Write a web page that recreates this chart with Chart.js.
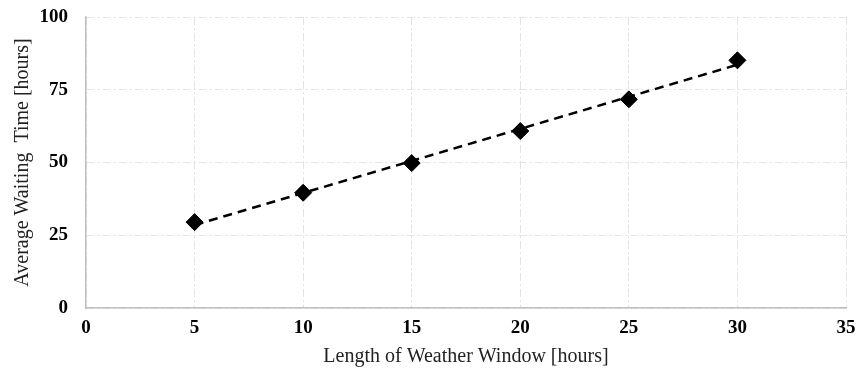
<!DOCTYPE html>
<html>
<head>
<meta charset="utf-8">
<script src="https://cdn.jsdelivr.net/npm/chart.js@4"></script>
<style>
  html, body { margin: 0; padding: 0; background: #fff; }
  #wrap { width: 858px; height: 373px; }
</style>
</head>
<body>
<div id="wrap"><canvas id="waitChart"></canvas></div>
<script>
// window length [hours] vs average waiting time [hours]
const windowHours = [5, 10, 15, 20, 25, 30];
const waitHours = [29.5, 39.6, 49.8, 60.8, 71.7, 85.1];

const trendX = [5, 30];
const trendY = [28.5, 83.6];

const xTicks = [0, 5, 10, 15, 20, 25, 30, 35];
const yTicks = [0, 25, 50, 75, 100];

const serif = "'Liberation Serif', 'Times New Roman', serif";
const gridStyle = { color: '#e3e3e3', lineWidth: 1, drawTicks: false };
const borderStyle = { color: '#bfbfbf', width: 1.5, dash: [8, 3, 2, 3] };

const ctx = document.getElementById('waitChart').getContext('2d');
new Chart(ctx, {
    type: 'scatter',
    data: {
        datasets: [
            {
                label: 'Average Waiting Time',
                data: windowHours.map((x, i) => ({ x: x, y: waitHours[i] })),
                backgroundColor: '#000',
                borderColor: '#000',
                pointStyle: 'rectRot',
                pointRadius: 8.5,
                pointHoverRadius: 8.5,
                order: 1
            },
            {
                label: 'Trend',
                type: 'line',
                data: trendX.map((x, i) => ({ x: x, y: trendY[i] })),
                borderColor: '#000',
                borderWidth: 2.5,
                borderDash: [9, 6],
                pointRadius: 0,
                fill: false,
                order: 2
            }
        ]
    },
    options: {
        responsive: true,
        maintainAspectRatio: false,
        animation: false,
        layout: { padding: { top: 17, right: 12, left: 0, bottom: 0 } },
        plugins: { legend: { display: false }, tooltip: { enabled: false } },
        scales: {
            x: {
                type: 'linear',
                min: 0,
                max: 35,
                afterBuildTicks: s => { s.ticks = xTicks.map(v => ({ value: v })); },
                afterFit: s => { s.height = 65; s.paddingLeft = 0; s.paddingRight = 0; },
                grid: gridStyle,
                border: borderStyle,
                ticks: {
                    color: '#000',
                    padding: 9,
                    font: { family: serif, size: 19, weight: 'bold' }
                },
                title: {
                    display: true,
                    text: 'Length of Weather Window [hours]',
                    color: '#222',
                    padding: { top: 0, bottom: 4 },
                    font: { family: serif, size: 20 }
                }
            },
            y: {
                min: 0,
                max: 100,
                afterBuildTicks: s => { s.ticks = yTicks.map(v => ({ value: v })); },
                afterFit: s => { s.width = 86; s.paddingTop = 0; s.paddingBottom = 0; },
                grid: gridStyle,
                border: borderStyle,
                ticks: {
                    color: '#000',
                    padding: 18,
                    font: { family: serif, size: 19, weight: 'bold' }
                },
                title: {
                    display: true,
                    text: 'Average Waiting  Time [hours]',
                    color: '#222',
                    padding: { top: 11, bottom: 0 },
                    font: { family: serif, size: 20 }
                }
            }
        }
    }
});
</script>
</body>
</html>
